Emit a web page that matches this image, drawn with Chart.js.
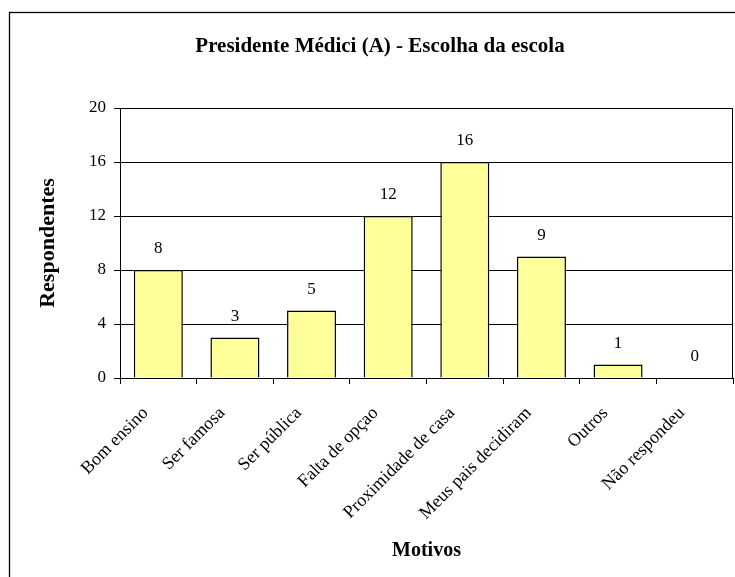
<!DOCTYPE html>
<html>
<head>
<meta charset="utf-8">
<script src="https://cdn.jsdelivr.net/npm/chart.js@4/dist/chart.umd.min.js"></script>
<style>
  html, body { margin: 0; padding: 0; background: #ffffff; }
  #wrap { width: 735px; height: 577px; }
</style>
</head>
<body>
<div id="wrap"><canvas id="chart" width="735" height="577"></canvas></div>
<script>
// Motivos da escolha da escola (Presidente Médici, turma A)
const motivos = [
  'Bom ensino',
  'Ser famosa',
  'Ser pública',
  'Falta de opçao',
  'Proximidade de casa',
  'Meus pais decidiram',
  'Outros',
  'Não respondeu'
];
const respondentes = [8, 3, 5, 12, 16, 9, 1, 0];
const yTicks = [0, 4, 8, 12, 16, 20];

const tituloGrafico = 'Presidente Médici (A) - Escolha da escola';
const tituloX = 'Motivos';
const tituloY = 'Respondentes';

const SERIF = '"Liberation Serif", "Times New Roman", serif';

// Outer frame, chart title, plot box and value labels
const decoracao = {
  id: 'decoracao',
  beforeDraw(chart) {
    const ctx = chart.ctx;
    ctx.save();
    ctx.fillStyle = '#ffffff';
    ctx.fillRect(0, 0, chart.width, chart.height);
    ctx.strokeStyle = '#000000';
    ctx.lineWidth = 1.3;
    ctx.strokeRect(9.5, 12.5, chart.width + 20, chart.height + 20);
    ctx.restore();
  },
  afterDraw(chart) {
    const ctx = chart.ctx;
    const area = chart.chartArea;
    ctx.save();
    // plot box
    ctx.strokeStyle = '#000000';
    ctx.lineWidth = 1;
    ctx.strokeRect(area.left + 0.5, area.top + 0.5, area.right - area.left - 1, area.bottom - area.top);
    // title
    ctx.fillStyle = '#000000';
    ctx.font = 'bold 21px ' + SERIF;
    ctx.textAlign = 'center';
    ctx.textBaseline = 'alphabetic';
    ctx.fillText(tituloGrafico, 380, 52);
    // value labels
    ctx.font = '17px ' + SERIF;
    ctx.textBaseline = 'middle';
    const meta = chart.getDatasetMeta(0);
    meta.data.forEach((bar, i) => {
      ctx.fillText(String(respondentes[i]), bar.x, bar.y - 21);
    });
    ctx.restore();
  }
};

new Chart(document.getElementById('chart'), {
  type: 'bar',
  data: {
    labels: motivos,
    datasets: [{
      data: respondentes,
      backgroundColor: '#FFFF99',
      borderColor: '#000000',
      borderWidth: 1.5,
      categoryPercentage: 1,
      barPercentage: 0.64
    }]
  },
  options: {
    responsive: false,
    animation: false,
    devicePixelRatio: 1,
    layout: { padding: { top: 108, right: 2, bottom: 0, left: 0 } },
    plugins: {
      legend: { display: false },
      title: { display: false },
      tooltip: { enabled: false }
    },
    scales: {
      x: {
        grid: {
          offset: true,
          drawOnChartArea: false,
          drawTicks: true,
          tickLength: 6,
          color: '#000000',
          lineWidth: 1
        },
        border: { display: true, color: '#000000', width: 1 },
        ticks: {
          color: '#000000',
          font: { family: SERIF, size: 18 },
          minRotation: 45,
          maxRotation: 45,
          padding: 6,
          autoSkip: false,
          // trailing gap keeps the slanted label's end just left of the bar centre
          callback: (v, i) => motivos[i] + '    '
        },
        title: {
          display: true,
          text: tituloX,
          color: '#000000',
          font: { family: SERIF, size: 20, weight: 'bold' },
          padding: { top: 0, bottom: 14 }
        },
        afterFit(scale) { scale.height = 199; }
      },
      y: {
        min: 0,
        max: 20,
        afterBuildTicks(scale) { scale.ticks = yTicks.map(v => ({ value: v })); },
        grid: {
          color: '#000000',
          lineWidth: 1,
          drawTicks: true,
          tickLength: 6
        },
        border: { display: true, color: '#000000', width: 1 },
        ticks: {
          color: '#000000',
          font: { family: SERIF, size: 17 },
          padding: 8
        },
        title: {
          display: true,
          text: tituloY,
          color: '#000000',
          font: { family: SERIF, size: 22, weight: 'bold' },
          padding: { top: 35, bottom: 0 }
        },
        afterFit(scale) { scale.width = 120; }
      }
    }
  },
  plugins: [decoracao]
});
</script>
</body>
</html>
